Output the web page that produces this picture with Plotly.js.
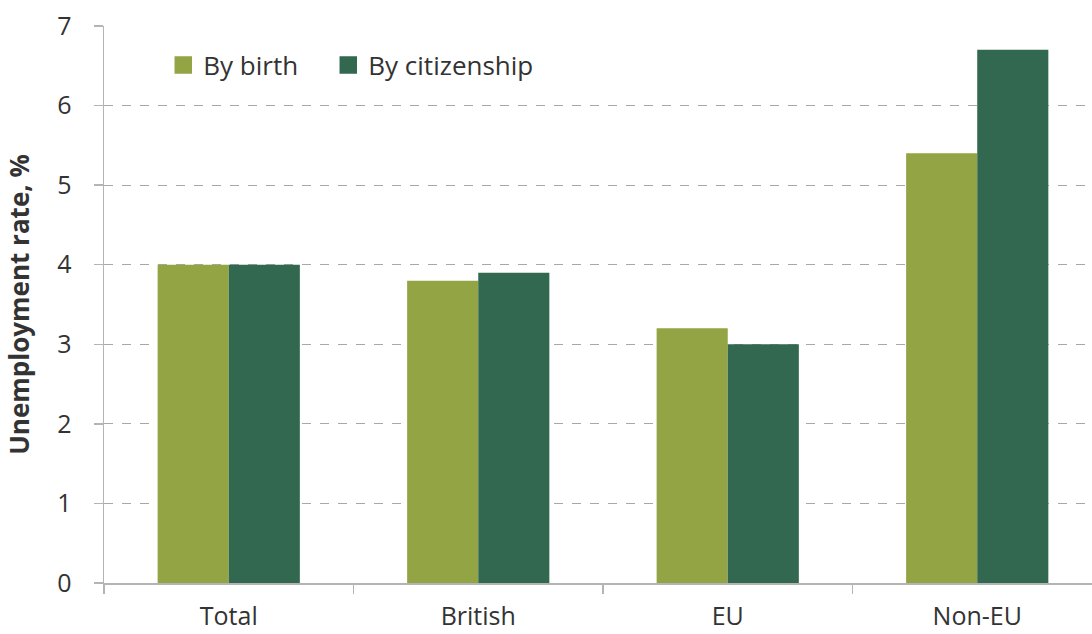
<!DOCTYPE html>
<html>
<head>
<meta charset="utf-8">
<script src="https://cdn.plot.ly/plotly-3.0.1.min.js"></script>
<style>html,body{margin:0;padding:0;background:#fff;}#chart{width:1092px;height:634px;}</style>
</head>
<body>
<div id="chart"></div>
<script>
const categories = ["Total", "British", "EU", "Non-EU"];
const byBirth = [4.0, 3.8, 3.2, 5.4];
const byCitizenship = [4.0, 3.9, 3.0, 6.7];
const seriesNames = ["By birth", "By citizenship"];
const seriesColors = ["#93a445", "#336850"];
const yTicks = [0, 1, 2, 3, 4, 5, 6, 7];

const traces = [
  {type: "bar", name: seriesNames[0], x: categories, y: byBirth, showlegend: false,
   marker: {color: seriesColors[0], line: {width: 0}}},
  {type: "bar", name: seriesNames[1], x: categories, y: byCitizenship, showlegend: false,
   marker: {color: seriesColors[1], line: {width: 0}}},
  // legend-only entries with larger square swatches
  {type: "scatter", mode: "markers", name: seriesNames[0], x: [categories[0]], y: [null],
   legend: "legend",
   marker: {symbol: "square", size: 16, color: seriesColors[0], line: {width: 1.5, color: seriesColors[0]}}, hoverinfo: "skip"},
  {type: "scatter", mode: "markers", name: seriesNames[1], x: [categories[0]], y: [null],
   legend: "legend2",
   marker: {symbol: "square", size: 16, color: seriesColors[1], line: {width: 1.5, color: seriesColors[1]}}, hoverinfo: "skip"}
];

const legendBase = {orientation: "h", xanchor: "left", y: 0.93, yanchor: "middle",
  font: {size: 26, color: "#333333"}, bgcolor: "rgba(0,0,0,0)", itemwidth: 30};

const layout = {
  width: 1092, height: 634,
  margin: {l: 104, r: 0, t: 26, b: 51},
  paper_bgcolor: "#fff", plot_bgcolor: "#fff",
  font: {family: "Open Sans, sans-serif", size: 26, color: "#333333"},
  barmode: "group",
  bargap: 0.43,
  bargroupgap: 0,
  showlegend: true,
  legend: Object.assign({}, legendBase, {x: 0.06}),
  legend2: Object.assign({}, legendBase, {x: 0.227}),
  xaxis: {
    type: "category",
    range: [-0.5, 3.46],
    showline: true, linecolor: "#b4b4b4", linewidth: 1.5,
    ticks: "outside", tickson: "boundaries", ticklen: 9, tickcolor: "#b4b4b4", tickwidth: 1.5,
    showgrid: false, zeroline: false,
    ticklabelstandoff: 10,
    tickfont: {size: 25, color: "#333333"}
  },
  yaxis: {
    range: [0, 7],
    tickvals: yTicks,
    showline: true, linecolor: "#b4b4b4", linewidth: 1.5,
    ticks: "outside", ticklen: 9, tickcolor: "#b4b4b4", tickwidth: 1.5,
    showgrid: true, gridcolor: "#a8a8a8", griddash: "dash", gridwidth: 1,
    zeroline: false,
    ticklabelstandoff: 17,
    tickfont: {size: 25, color: "#333333"},
    title: {text: "Unemployment rate, %", font: {size: 26, color: "#333333", family: "Open Sans, sans-serif", weight: "bold"}, standoff: 20}
  }
};

Plotly.newPlot("chart", traces, layout, {displayModeBar: false, staticPlot: true});
</script>
</body>
</html>
